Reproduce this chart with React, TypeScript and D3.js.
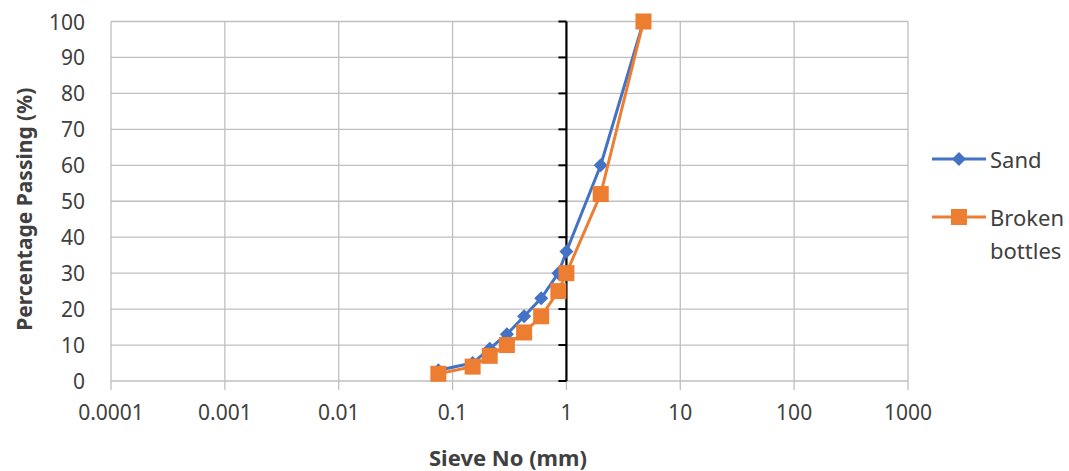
import React from "react";
import * as d3 from "d3";

const sieveSizes = [0.075, 0.15, 0.212, 0.3, 0.425, 0.6, 0.85, 1.0, 2.0, 4.75];
const sandPassing = [3, 5, 9, 13, 18, 23, 30, 36, 60, 100];
const bottlesPassing = [2, 4, 7, 10, 13.5, 18, 25, 30, 52, 100];
const xTicks = [0.0001, 0.001, 0.01, 0.1, 1, 10, 100, 1000];
const yTicks = [0, 10, 20, 30, 40, 50, 60, 70, 80, 90, 100];

const W = 1069;
const H = 471;
const left = 111;
const right = 908;
const top = 21.5;
const bottom = 381;

const font = "'Noto Sans', 'Open Sans', sans-serif";
const blue = "#4472C4";
const orange = "#ED7D31";
const grid = "#bfbfbf";
const ink = "#404040";

const App = () => {
  const x = d3.scaleLog().domain([0.0001, 1000]).range([left, right]);
  const y = d3.scaleLinear().domain([0, 100]).range([bottom, top]);

  const line = d3
    .line<[number, number]>()
    .x((d) => x(d[0]))
    .y((d) => y(d[1]));

  const sand = sieveSizes.map((s, i) => [s, sandPassing[i]] as [number, number]);
  const bottles = sieveSizes.map((s, i) => [s, bottlesPassing[i]] as [number, number]);

  const diamond = (cx: number, cy: number, r: number) =>
    `M${cx},${cy - r}L${cx + r},${cy}L${cx},${cy + r}L${cx - r},${cy}Z`;

  return (
    <svg
      width={W}
      height={H}
      style={{ position: "absolute", left: 0, top: 0, background: "#fff" }}
    >
      {yTicks.map((t) => (
        <line key={"gy" + t} x1={left} x2={right} y1={y(t)} y2={y(t)} stroke={grid} strokeWidth={1.3} />
      ))}
      {xTicks.map((t) => (
        <line key={"gx" + t} x1={x(t)} x2={x(t)} y1={top} y2={bottom + 9} stroke={grid} strokeWidth={1.3} />
      ))}

      {/* vertical axis crossing at 1 */}
      <line x1={x(1)} x2={x(1)} y1={top} y2={bottom} stroke="#000" strokeWidth={2.2} />
      {yTicks.map((t) => (
        <line key={"ty" + t} x1={x(1) - 8} x2={x(1)} y1={y(t)} y2={y(t)} stroke="#000" strokeWidth={2} />
      ))}

      {yTicks.map((t) => (
        <text
          key={"ly" + t}
          x={85}
          y={y(t)}
          textAnchor="end"
          dominantBaseline="central"
          fontFamily={font}
          fontSize={21}
          fill={ink}
        >
          {t}
        </text>
      ))}
      {xTicks.map((t) => (
        <text
          key={"lx" + t}
          x={x(t)}
          y={420}
          textAnchor="middle"
          fontFamily={font}
          fontSize={21}
          fill={ink}
        >
          {String(t)}
        </text>
      ))}

      <path d={line(sand) || ""} fill="none" stroke={blue} strokeWidth={3} />
      {sand.map((d, i) => (
        <path key={"sd" + i} d={diamond(x(d[0]), y(d[1]), 7)} fill={blue} />
      ))}
      <path d={line(bottles) || ""} fill="none" stroke={orange} strokeWidth={3} />
      {bottles.map((d, i) => (
        <rect key={"bs" + i} x={x(d[0]) - 8} y={y(d[1]) - 8} width={16} height={16} fill={orange} />
      ))}

      <text
        transform={`translate(24,${(top + bottom) / 2 + 8}) rotate(-90)`}
        textAnchor="middle"
        dominantBaseline="central"
        fontFamily={font}
        fontSize={21}
        fontWeight="bold"
        fill={ink}
      >
        Percentage Passing (%)
      </text>
      <text
        x={508}
        y={466}
        textAnchor="middle"
        fontFamily={font}
        fontSize={22}
        fontWeight="bold"
        fill={ink}
      >
        Sieve No (mm)
      </text>

      {/* legend */}
      <line x1={932} x2={986} y1={159} y2={159} stroke={blue} strokeWidth={3} />
      <path d={diamond(959, 159, 7)} fill={blue} />
      <text x={990} y={159} dominantBaseline="central" fontFamily={font} fontSize={22} fill={ink}>
        Sand
      </text>
      <line x1={932} x2={986} y1={217} y2={217} stroke={orange} strokeWidth={3} />
      <rect x={951} y={209} width={16} height={16} fill={orange} />
      <text x={990} y={217} dominantBaseline="central" fontFamily={font} fontSize={22} fill={ink}>
        Broken
      </text>
      <text x={990} y={250} dominantBaseline="central" fontFamily={font} fontSize={22} fill={ink}>
        bottles
      </text>
    </svg>
  );
};

export default App;
